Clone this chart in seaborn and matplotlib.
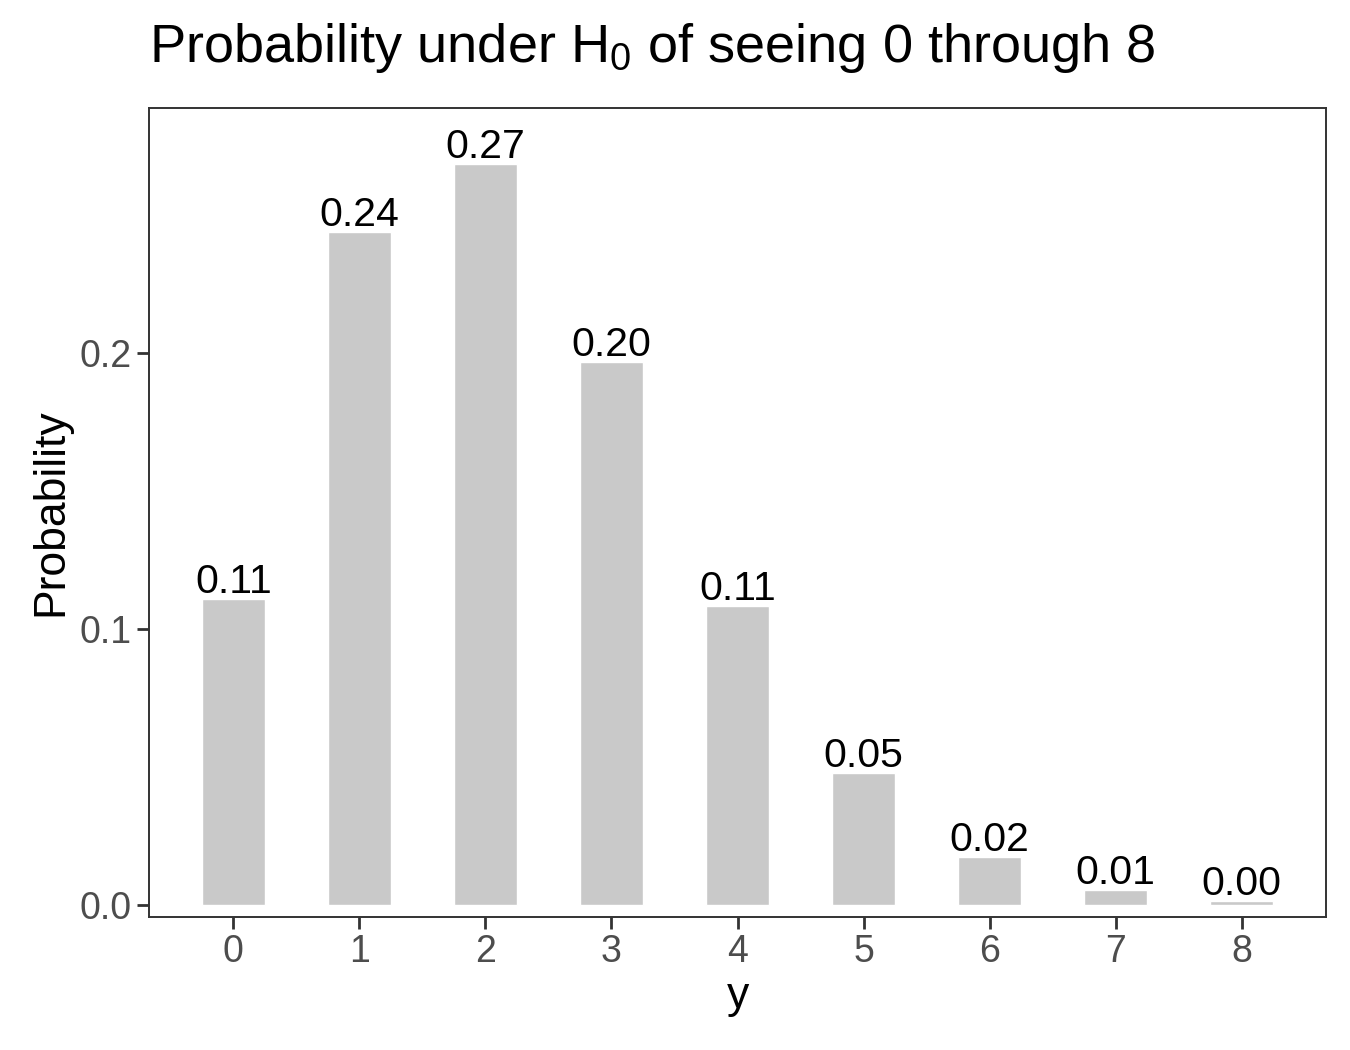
import matplotlib
matplotlib.use("Agg")
import matplotlib.pyplot as plt
import seaborn as sns
import pandas as pd

categories = ["0", "1", "2", "3", "4", "5", "6", "7", "8"]
probabilities = [0.111, 0.244, 0.2685, 0.1967, 0.1083, 0.0478, 0.0174, 0.0054, 0.0014]
y_ticks = [0.0, 0.1, 0.2]
y_tick_labels = ["0.0", "0.1", "0.2"]

sns.set_theme(style="white")
plt.rcParams['font.family'] = ['Liberation Sans', 'DejaVu Sans']
plt.rcParams['mathtext.fontset'] = 'custom'
plt.rcParams['mathtext.rm'] = 'Liberation Sans'
plt.rcParams['mathtext.it'] = 'Liberation Sans'

df = pd.DataFrame({"y": categories, "Probability": probabilities})

fig = plt.figure(figsize=(13.5, 10.5), dpi=100)
ax = fig.add_axes([149/1350, 1 - 917/1050, (1326-149)/1350, (917-108)/1050])

sns.barplot(data=df, x="y", y="Probability", order=categories, color="#C9C9C9",
            width=0.5, saturation=1, ax=ax, errorbar=None)

for i, p in enumerate(probabilities):
    ax.annotate(f"{p:.2f}", xy=(i, p), xytext=(0, 6), textcoords="offset pixels",
                ha="center", va="baseline", fontsize=29.5, color="black")

ax.set_xlim(-0.67, 8.67)
ax.set_ylim(-0.0043, 0.2888)
ax.set_yticks(y_ticks)
ax.set_yticklabels(y_tick_labels)

for s in ax.spines.values():
    s.set_visible(True)
    s.set_color("#333333")
    s.set_linewidth(1.4)

ax.tick_params(axis="both", which="major", length=8.5, width=2.0, color="#333333",
               labelcolor="#4D4D4D", labelsize=27, pad=4, direction="out",
               bottom=True, left=True)
ax.grid(False)

ax.set_xlabel("y", fontsize=32, color="black", labelpad=4)
ax.set_ylabel("Probability", fontsize=32, color="black", labelpad=6)

fig.text(149/1350, 1 - 62/1050, r"Probability under H$_0$ of seeing 0 through 8",
         fontsize=39, color="black", ha="left", va="baseline")

fig.savefig("out.png", dpi=100)
